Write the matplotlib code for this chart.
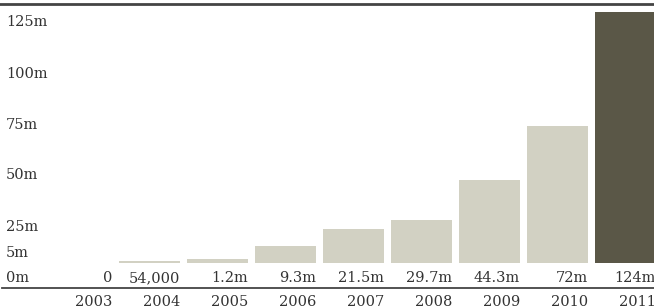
import matplotlib
matplotlib.use("Agg")
import matplotlib.pyplot as plt
from matplotlib.lines import Line2D

years = ["2003", "2004", "2005", "2006", "2007", "2008", "2009", "2010", "2011"]
# bar heights as drawn in the reference (in the axis' millions scale)
bar_heights_m = [0, 1.0, 2.0, 8.4, 16.8, 21.2, 41.0, 67.7, 124]
value_labels = ["0", "54,000", "1.2m", "9.3m", "21.5m", "29.7m", "44.3m", "72m", "124m"]
highlight = [False, False, False, False, False, False, False, False, True]
ytick_values = [0, 5, 25, 50, 75, 100, 125]
ytick_labels = ["0m", "5m", "25m", "50m", "75m", "100m", "125m"]

LIGHT = "#d2d1c3"
DARK = "#5a5747"
TEXT = "#333333"
FONT = "DejaVu Serif"
FS = 10.5

W, H = 654, 308
fig = plt.figure(figsize=(W / 100, H / 100), dpi=100)
# axes: full width, baseline at y=263px, top at 4px
ax = fig.add_axes([0, 1 - 263 / H, 1, (263 - 4) / H])

x = list(range(len(years)))
colors = [DARK if h else LIGHT for h in highlight]
ax.bar(x, bar_heights_m, width=61 / 68, color=colors, align="center")

ax.set_xlim(-81.5 / 68, (654 - 81.5) / 68)
ax.set_ylim(0, 259 / 2.024)

for s in ["left", "right", "bottom"]:
    ax.spines[s].set_visible(False)
ax.spines["top"].set_color("#444444")
ax.spines["top"].set_linewidth(2)
ax.set_xticks([])
ax.set_yticks([])

half = 61 / 68 / 2
# value labels and year labels, right aligned at bar right edge
for xi, lab, yr in zip(x, value_labels, years):
    ax.annotate(lab, (xi + half, 0), xytext=(0, -19), textcoords="offset pixels",
                ha="right", va="baseline", fontsize=FS, family=FONT, color=TEXT,
                annotation_clip=False)
    ax.annotate(yr, (xi + half, 0), xytext=(0, -43), textcoords="offset pixels",
                ha="right", va="baseline", fontsize=FS, family=FONT, color=TEXT,
                annotation_clip=False)

# y tick labels (left aligned at x=6px)
yoffsets = [-19, -4, -18.5, -17.2, -17.8, -17.4, -16]
for v, lab, off in zip(ytick_values, ytick_labels, yoffsets):
    ax.annotate(lab, (0, v), xycoords=("axes fraction", "data"),
                xytext=(6, off), textcoords="offset pixels",
                ha="left", va="baseline", fontsize=FS, family=FONT, color=TEXT,
                annotation_clip=False)

# bottom rule
yb = 1 - 288 / H
fig.add_artist(Line2D([2 / W, 1], [yb, yb], transform=fig.transFigure,
                      color="#444444", linewidth=1.3))

fig.savefig("out.png", dpi=100)
